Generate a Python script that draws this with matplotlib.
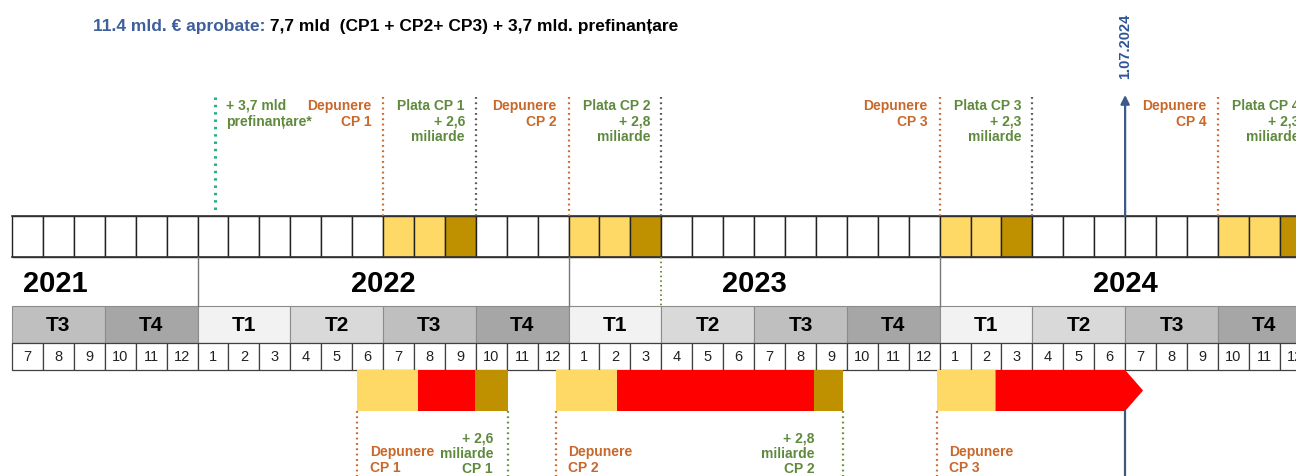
import matplotlib
matplotlib.use('Agg')
import matplotlib.pyplot as plt
from matplotlib.patches import Rectangle, Polygon

FONT = ['Liberation Sans', 'DejaVu Sans']
plt.rcParams['font.family'] = FONT

# luni: indexul 0 = iulie 2021
month_labels = [7, 8, 9, 10, 11, 12,
                1, 2, 3, 4, 5, 6, 7, 8, 9, 10, 11, 12,
                1, 2, 3, 4, 5, 6, 7, 8, 9, 10, 11, 12,
                1, 2, 3, 4, 5, 6, 7, 8, 9, 10, 11, 12]
quarter_labels = ['T3', 'T4', 'T1', 'T2', 'T3', 'T4', 'T1', 'T2',
                  'T3', 'T4', 'T1', 'T2', 'T3', 'T4']
years = ['2021', '2022', '2023', '2024']
year_start = [0, 6, 18, 30]
year_end = [6, 18, 30, 42]
year_label_x = [1.4, 12, 24, 36]

light_cells = [12, 13, 18, 19, 30, 31, 39, 40]
dark_cells = [14, 20, 32, 41]

prefin_x = 6.57
dep_top = [12, 18, 30, 39]
dep_top_labels = ['Depunere\nCP 1', 'Depunere\nCP 2', 'Depunere\nCP 3', 'Depunere\nCP 4']
plata_top = [15, 21, 33, 42]
plata_top_labels = ['Plata CP 1\n+ 2,6\nmiliarde', 'Plata CP 2\n+ 2,8\nmiliarde',
                    'Plata CP 3\n+ 2,3\nmiliarde', 'Plata CP 4\n+ 2,3\nmiliarde']

# bare jos: inceput, sfarsit galben, sfarsit rosu, sfarsit auriu
bar_start = [11.17, 17.58, 29.9]
bar_light_end = [13.12, 19.56, 31.81]
bar_red_end = [14.97, 25.95, 36.0]
bar_dark_end = [16.03, 26.86]
arrow_tip = 36.58
deadline = 36.0
dep_bottom_labels = ['Depunere\nCP 1', 'Depunere\nCP 2', 'Depunere\nCP 3']
plata_bottom_labels = ['+ 2,6\nmiliarde\nCP 1', '+ 2,8\nmiliarde\nCP 2']
plata_bottom_shift = [0.47, 0.9]

LIGHT = '#FFD966'
DARK = '#BF9000'
RED = '#FF0000'
ORANGE = '#C8682A'
GREEN = '#5F8A3E'
BLUE = '#2F5597'
TEAL = '#2BAE85'
GREY_LINE = '#5A5A50'
Q_COL = {'T1': '#F2F2F2', 'T2': '#D9D9D9', 'T3': '#BFBFBF', 'T4': '#A6A6A6'}

MW = 30.92
x0 = -12 / MW
x1 = (1296 - 12) / MW

# randuri (y in pixeli, de sus in jos)
TOP0, TOP1 = 217, 258
YR0, YR1 = 258, 307
Q0, Q1 = 307, 344
M0, M1 = 344, 371
B0, B1 = 371, 412

fig = plt.figure(figsize=(12.96, 4.77), dpi=100)
ax = fig.add_axes([0, 0, 1, 1])
ax.set_xlim(x0, x1)
ax.set_ylim(477, 0)
ax.axis('off')

n = len(month_labels)

# rand de sus cu celule
for i in range(n):
    fc = 'white'
    if i in light_cells:
        fc = LIGHT
    if i in dark_cells:
        fc = DARK
    ax.add_patch(Rectangle((i, TOP0), 1, TOP1 - TOP0, facecolor=fc,
                           edgecolor='#222222', lw=1.0))
ax.plot([0, x1], [TOP0, TOP0], color='#333333', lw=1.2)
ax.plot([0, x1], [TOP1, TOP1], color='#333333', lw=1.2)

# ani
for name, s, e, lx in zip(years, year_start, year_end, year_label_x):
    if s > 0:
        ax.plot([s, s], [YR0, YR1], color='#777777', lw=1)
    ax.text(lx, (YR0 + YR1) / 2 + 2, name, ha='center', va='center',
            fontsize=21, fontweight='bold', color='black')

# trimestre
for k, q in enumerate(quarter_labels):
    ax.add_patch(Rectangle((3 * k, Q0), 3, Q1 - Q0, facecolor=Q_COL[q],
                           edgecolor='#8C8C8C', lw=0.8))
    ax.text(3 * k + 1.5, (Q0 + Q1) / 2, q, ha='center', va='center',
            fontsize=15, fontweight='bold', color='black')

# luni
for i, m in enumerate(month_labels):
    ax.add_patch(Rectangle((i, M0), 1, M1 - M0, facecolor='white',
                           edgecolor='#404040', lw=0.9))
    ax.text(i + 0.5, (M0 + M1) / 2, str(m), ha='center', va='center',
            fontsize=10.5, color='#222222')

# linii punctate sus
ax.plot([prefin_x, prefin_x], [98, TOP0 - 2], color=TEAL, lw=2.2,
        ls=(0, (0.8, 1.6)))
ax.text(prefin_x + 0.35, 99, '+ 3,7 mld\nprefinanțare*', ha='left', va='top',
        fontsize=10, color=GREEN, fontweight='bold', linespacing=1.2)
for x, lab in zip(dep_top, dep_top_labels):
    ax.plot([x, x], [98, TOP0], color=ORANGE, lw=1.6, ls=(0, (0.8, 1.6)))
    ax.text(x - 0.38, 99, lab, ha='right', va='top', fontsize=10,
            color=ORANGE, fontweight='bold', linespacing=1.15)
for x, lab in zip(plata_top, plata_top_labels):
    ax.plot([x, x], [98, TOP0], color=GREY_LINE, lw=1.6, ls=(0, (0.8, 1.6)))
    ax.text(x - 0.35, 99, lab, ha='right', va='top', fontsize=10,
            color=GREEN, fontweight='bold', linespacing=1.15)

# linie punctata verde prin randul anilor (aprilie 2023)
ax.plot([21, 21], [TOP1, Q0], color='#6B8E3A', lw=1.4, ls=(0, (0.8, 1.6)))

# bare jos
for k in range(len(bar_start)):
    s, le, re = bar_start[k], bar_light_end[k], bar_red_end[k]
    ax.add_patch(Rectangle((s, B0), le - s, B1 - B0, facecolor=LIGHT, lw=0))
    if k < len(bar_dark_end):
        de = bar_dark_end[k]
        ax.add_patch(Rectangle((le, B0), re - le, B1 - B0, facecolor=RED, lw=0))
        ax.add_patch(Rectangle((re, B0), de - re, B1 - B0, facecolor=DARK, lw=0))
        ax.plot([de, de], [B1, 477], color='#6B8E3A', lw=1.6, ls=(0, (0.8, 1.6)))
        ax.text(de - plata_bottom_shift[k], 432, plata_bottom_labels[k],
                ha='right', va='top', fontsize=10, color=GREEN,
                fontweight='bold', linespacing=1.1)
    else:
        ax.add_patch(Polygon([(le, B0), (re, B0), (arrow_tip, (B0 + B1) / 2),
                              (re, B1), (le, B1)], closed=True,
                             facecolor=RED, lw=0))
    ax.plot([s, s], [B1, 477], color=ORANGE, lw=1.6, ls=(0, (0.8, 1.6)))
    ax.text(s + 0.4, 445, dep_bottom_labels[k], ha='left', va='top',
            fontsize=10, color=ORANGE, fontweight='bold', linespacing=1.15)

# termen 1.07.2024
ax.plot([deadline, deadline], [B1, 477], color='#3C5A78', lw=1.6)
ax.annotate('', xy=(deadline, 96), xytext=(deadline, TOP0),
            arrowprops=dict(arrowstyle='-|>', color='#3C5A8C', lw=1.6,
                            mutation_scale=13, shrinkA=0, shrinkB=0))
ax.text(deadline, 46, '1.07.2024', rotation=90, ha='center', va='center',
        fontsize=10.5, color=BLUE, fontweight='bold')

# titlu
t1 = ax.text(93 / MW + x0, 26, '11.4 mld. € aprobate:', ha='left', va='center',
             fontsize=12.5, color='#3E5F9B', fontweight='bold')
ax.annotate(' 7,7 mld  (CP1 + CP2+ CP3) + 3,7 mld. prefinanțare',
            xy=(1, 0.5), xycoords=t1, ha='left', va='center',
            fontsize=12.5, color='black', fontweight='bold')

fig.savefig('out.png', dpi=100)
